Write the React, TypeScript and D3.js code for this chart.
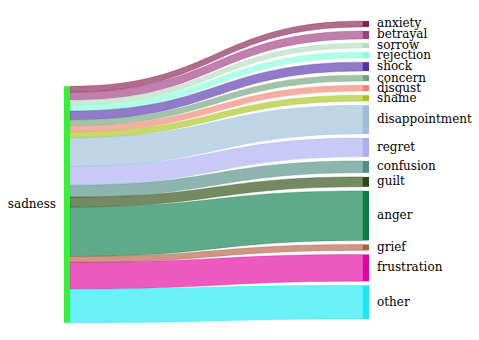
import React from 'react';
import * as d3 from 'd3';

// sankey: one source (sadness) split into emotions
const sourceName = 'sadness';
const targets = [
  'anxiety', 'betrayal', 'sorrow', 'rejection', 'shock', 'concern', 'disgust', 'shame',
  'disappointment', 'regret', 'confusion', 'guilt', 'anger', 'grief', 'frustration', 'other',
];
const values = [6, 8, 5, 6, 9, 6, 6, 6, 29, 19, 12, 10, 50, 6, 27, 34];
const colors = [
  '#86204f', '#a03a82', '#b3dcbb', '#86ffd9', '#5633aa', '#6fa47b', '#ef8470', '#a9c41f',
  '#9dbdd9', '#aaaef0', '#4e8e82', '#2b4a10', '#097c48', '#b35e42', '#e200a0', '#1ae9f5',
];
const sourceColor = '#31f531';

const W = 479;
const H = 340;

export default function App() {
  const srcX0 = 64;
  const srcX1 = 70;
  const tgtX0 = 363;
  const tgtX1 = 369;
  const top = 21;
  const bottom = 319;
  const pad = 4.1;
  const srcCenter = 204.5;

  const total = d3.sum(values);
  const hScale = d3
    .scaleLinear()
    .domain([0, total])
    .range([0, bottom - top - pad * (targets.length - 1)]);

  const srcTop = srcCenter - hScale(total) / 2;

  // stack target nodes and source-side link offsets
  let ty = top;
  let sy = srcTop;
  const nodes = targets.map((name, i) => {
    const h = hScale(values[i]);
    const n = { name, color: colors[i], y0: ty, y1: ty + h, sy0: sy, sy1: sy + h };
    ty += h + pad;
    sy += h;
    return n;
  });
  const srcBottom = sy;

  const mid = (srcX1 + tgtX0) / 2;
  const band = (n) => {
    const p = d3.path();
    p.moveTo(srcX1, n.sy0);
    p.bezierCurveTo(mid, n.sy0, mid, n.y0, tgtX0, n.y0);
    p.lineTo(tgtX0, n.y1);
    p.bezierCurveTo(mid, n.y1, mid, n.sy1, srcX1, n.sy1);
    p.closePath();
    return p.toString();
  };

  return (
    <svg
      width={W}
      height={H}
      style={{ position: 'absolute', left: 0, top: 0, background: '#fff' }}
      fontFamily="DejaVu Serif"
      fontSize={12}
    >
      <g>
        {nodes.map((n) => (
          <path
            key={'l' + n.name}
            d={band(n)}
            fill={n.color}
            fillOpacity={0.65}
            stroke={n.color}
            strokeOpacity={0.35}
            strokeWidth={1}
          />
        ))}
      </g>
      <rect x={srcX0} y={srcTop} width={srcX1 - srcX0} height={srcBottom - srcTop} fill={sourceColor} />
      <text x={srcX0 - 8} y={(srcTop + srcBottom) / 2} textAnchor="end" dominantBaseline="middle" fill="#000">
        {sourceName}
      </text>
      {nodes.map((n) => (
        <g key={'n' + n.name}>
          <rect x={tgtX0} y={n.y0} width={tgtX1 - tgtX0} height={n.y1 - n.y0} fill={n.color} />
          <text x={tgtX1 + 8} y={(n.y0 + n.y1) / 2} dominantBaseline="middle" fill="#000">
            {n.name}
          </text>
        </g>
      ))}
    </svg>
  );
}
